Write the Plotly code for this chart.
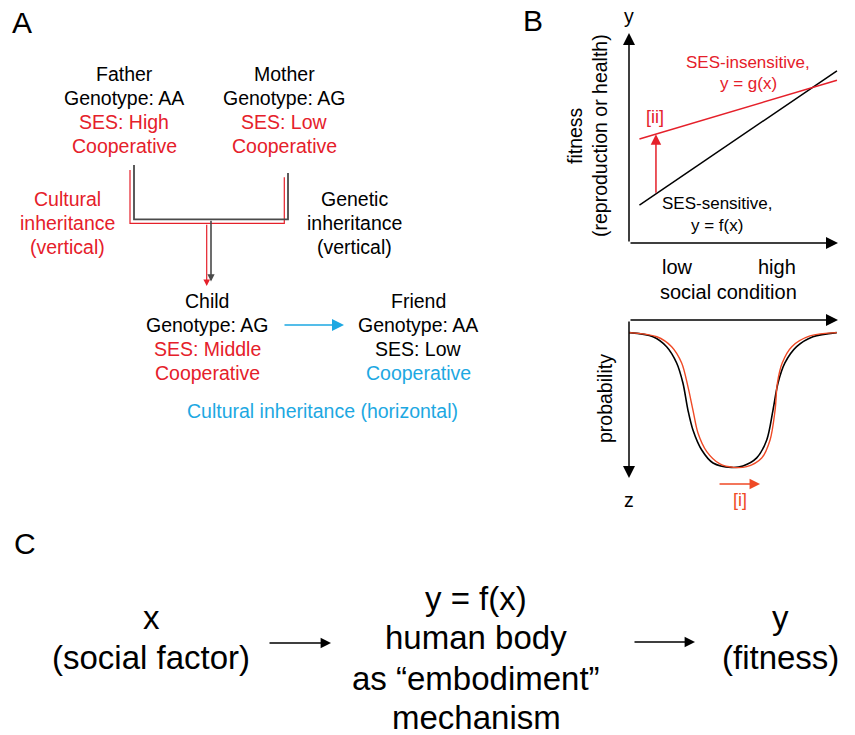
import plotly.graph_objects as go

W, H = 855, 735
OFF = 8  # the page body margin shifts the figure by 8px; compensate
FONT = "Liberation Sans, Arial, Helvetica, sans-serif"
RED = "#E5202A"
ORANGE = "#EF4A26"
BLUE = "#1DA8E2"
BLACK = "#000000"
GRAY = "#4A4A4A"

# ---------------- Panel B (top): fitness vs social condition ----------------
cond_x = [0.5, 9.95]                 # social condition (low -> high)
fit_sensitive = [1.8, 8.2]           # y = f(x), SES-sensitive
fit_insensitive = [4.95, 7.75]       # y = g(x), SES-insensitive
shift_at_x = 1.29                    # position of the [ii] arrow
shift_from = 2.32
shift_to = 5.18

# ---------------- Panel B (bottom): probability curves ----------------
prob_x_black = [0.0, 1.15, 1.80, 2.28, 2.58, 2.82, 3.06, 3.48, 4.02, 4.9, 5.45,
                6.11, 6.59, 6.89, 7.13, 7.46, 8.02, 8.80, 9.94]
prob_z_black = [0.80, 1.06, 1.69, 2.72, 3.99, 5.70, 6.96, 8.23, 9.05, 9.33, 9.24,
                8.73, 7.59, 5.70, 3.99, 2.72, 1.69, 1.06, 0.80]
prob_x_red = [0.0, 1.33, 2.04, 2.52, 2.82, 3.06, 3.30, 3.72, 4.35, 5.0, 5.63,
              6.35, 6.75, 6.99, 7.10, 7.33, 7.79, 8.66, 9.94]
prob_z_red = [0.80, 1.06, 1.69, 2.72, 4.22, 5.70, 7.15, 8.33, 9.11, 9.33, 9.28,
              8.73, 7.59, 5.70, 3.99, 2.72, 1.69, 1.01, 0.80]
shift_i = [4.26, 6.27]               # [i] arrow extent
shift_i_z = 10.38

# ---------------- Panel A: inheritance diagram (pixel frame) ----------------
genetic_path_x = [134, 134, 288, 288]
genetic_path_y = [165, 219.3, 219.3, 173]
genetic_stem = [211, 219.3, 211, 281.5]      # x0, y0, x1, y1
cultural_path_x = [130, 130, 284.3, 284.3]
cultural_path_y = [170, 223.3, 223.3, 177.3]
cultural_stem = [206.7, 223.3, 206.7, 286]
horizontal_arrow = [283, 325, 344, 325]

# ---------------- Panel C arrows (pixel frame) ----------------
c_arrows = [[268, 643, 331, 643], [633, 642, 695, 642]]

fig = go.Figure()

# Panel A lines
fig.add_trace(go.Scatter(x=cultural_path_x, y=cultural_path_y, mode="lines",
                         line=dict(color=RED, width=1.2), xaxis="x", yaxis="y"))
fig.add_trace(go.Scatter(x=genetic_path_x, y=genetic_path_y, mode="lines",
                         line=dict(color=GRAY, width=1.8), xaxis="x", yaxis="y"))

# Panel B top lines
fig.add_trace(go.Scatter(x=cond_x, y=fit_sensitive, mode="lines",
                         line=dict(color=BLACK, width=1.5), xaxis="x2", yaxis="y2"))
fig.add_trace(go.Scatter(x=cond_x, y=fit_insensitive, mode="lines",
                         line=dict(color=RED, width=1.5), xaxis="x2", yaxis="y2"))

# Panel B bottom curves
fig.add_trace(go.Scatter(x=prob_x_black, y=prob_z_black, mode="lines",
                         line=dict(color=BLACK, width=1.6, shape="spline", smoothing=0.9),
                         xaxis="x3", yaxis="y3"))
fig.add_trace(go.Scatter(x=prob_x_red, y=prob_z_red, mode="lines",
                         line=dict(color=ORANGE, width=1.4, shape="spline", smoothing=0.9),
                         xaxis="x3", yaxis="y3"))

for tr in fig.data:
    tr.update(showlegend=False, hoverinfo="skip")

ann = []


def arrow(x0, y0, x1, y1, color, width, size, ref=("x", "y"), head=2):
    ann.append(dict(x=x1, y=y1, ax=x0, ay=y0, xref=ref[0], yref=ref[1],
                    axref=ref[0], ayref=ref[1], text="", showarrow=True,
                    arrowhead=head, arrowsize=size, arrowwidth=width,
                    arrowcolor=color, standoff=0, startstandoff=0))


def text(x, y, s, size, color=BLACK, xanchor="center", angle=0):
    ann.append(dict(x=x, y=y, xref="x", yref="y", text=s, showarrow=False,
                    xanchor=xanchor, yanchor="middle", textangle=angle,
                    font=dict(family=FONT, size=size, color=color)))


# Panel A arrows
arrow(cultural_stem[0], cultural_stem[1], cultural_stem[2], cultural_stem[3], RED, 1.2, 1.1)
arrow(genetic_stem[0], genetic_stem[1], genetic_stem[2], genetic_stem[3], GRAY, 1.6, 0.9)
arrow(*horizontal_arrow, BLUE, 1.5, 1.6)

# Panel C arrows
for a in c_arrows:
    arrow(*a, BLACK, 1.3, 1.6)

# Panel B axes (top)
arrow(0, 0, 10, 0, BLACK, 1.5, 1.6, ref=("x2", "y2"))
arrow(0, 0, 0, 10, BLACK, 1.5, 1.6, ref=("x2", "y2"))
arrow(shift_at_x, shift_from, shift_at_x, shift_to, RED, 1.5, 1.4, ref=("x2", "y2"))
# Panel B axes (bottom)
arrow(0, 0, 10, 0, BLACK, 1.5, 1.6, ref=("x3", "y3"))
arrow(0, 0, 0, 10, BLACK, 1.5, 1.6, ref=("x3", "y3"))
arrow(shift_i[0], shift_i_z, shift_i[1], shift_i_z, ORANGE, 1.5, 1.4, ref=("x3", "y3"))

# ---- Texts ----
FA = 19.5
text(22, 22, "A", 30)
text(533, 20, "B", 30)
text(25, 543, "C", 30)

for i, (s, c) in enumerate([("Father", BLACK), ("Genotype: AA", BLACK),
                            ("SES: High", RED), ("Cooperative", RED)]):
    text(124, 74 + 24 * i, s, FA, c)
for i, (s, c) in enumerate([("Mother", BLACK), ("Genotype: AG", BLACK),
                            ("SES: Low", RED), ("Cooperative", RED)]):
    text(284, 74 + 24 * i, s, FA, c)
for i, s in enumerate(["Cultural", "inheritance", "(vertical)"]):
    text(67, 199 + 24 * i, s, FA, RED)
for i, s in enumerate(["Genetic", "inheritance", "(vertical)"]):
    text(354, 199 + 24 * i, s, FA, BLACK)
for i, (s, c) in enumerate([("Child", BLACK), ("Genotype: AG", BLACK),
                            ("SES: Middle", RED), ("Cooperative", RED)]):
    text(207, 301 + 24 * i, s, FA, c)
for i, (s, c) in enumerate([("Friend", BLACK), ("Genotype: AA", BLACK),
                            ("SES: Low", BLACK), ("Cooperative", BLUE)]):
    text(418, 301 + 24 * i, s, FA, c)
text(322, 411, "Cultural inheritance (horizontal)", FA, BLUE)

# Panel B texts
text(629, 16, "y", FA)
text(849, 243, "x", FA, xanchor="left")
text(748, 62, "SES-insensitive,", 17, RED)
text(748, 83, "y = g(x)", 17, RED)
text(655, 117, "[ii]", 18, RED)
text(717, 203, "SES-sensitive,", 17)
text(717, 225, "y = f(x)", 17)
text(677, 267, "low", 20)
text(777, 267, "high", 20)
text(728, 292, "social condition", 20)
text(575, 136, "fitness", FA, angle=-90)
text(600, 136, "(reproduction or health)", FA, angle=-90)
text(849, 320, "x", FA, xanchor="left")
text(605, 399, "probability", FA, angle=-90)
text(629, 500, "z", FA)
text(740, 500, "[i]", 18, ORANGE)

# Panel C texts
FC = 33
text(151, 617, "x", FC)
text(151, 657, "(social factor)", FC)
text(476, 598, "y = f(x)", FC)
text(476, 637, "human body", FC)
text(476, 678, "as “embodiment”", FC)
text(476, 717, "mechanism", FC)
text(780, 617, "y", FC)
text(780, 657, "(fitness)", FC)

FW, FH = W - OFF, H - OFF


def px(X):
    return (X - OFF) / FW


def py(Y):
    return 1 - (Y - OFF) / FH


ax_common = dict(visible=False, showgrid=False, zeroline=False, fixedrange=True)
fig.update_layout(
    width=FW, height=FH, margin=dict(l=0, r=0, t=0, b=0, pad=0),
    paper_bgcolor="white", plot_bgcolor="rgba(0,0,0,0)",
    showlegend=False, annotations=ann,
    xaxis=dict(range=[OFF, W], domain=[0, 1], anchor="y", **ax_common),
    yaxis=dict(range=[H, OFF], domain=[0, 1], anchor="x", **ax_common),
    xaxis2=dict(range=[0, 10], domain=[px(629), px(838)], anchor="y2", **ax_common),
    yaxis2=dict(range=[0, 10], domain=[py(243), py(33)], anchor="x2", **ax_common),
    xaxis3=dict(range=[0, 10], domain=[px(629), px(838)], anchor="y3", **ax_common),
    yaxis3=dict(range=[12, 0], domain=[py(509.6), py(320)], anchor="x3", **ax_common),
)

fig.write_html("out.html")
